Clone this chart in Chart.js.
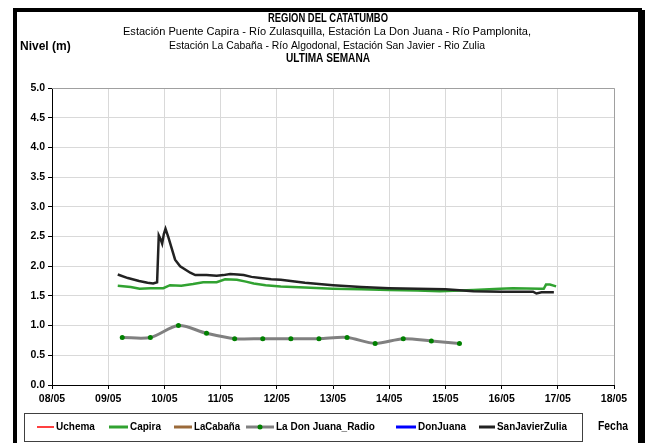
<!DOCTYPE html>
<html>
<head>
<meta charset="utf-8">
<script src="https://cdn.jsdelivr.net/npm/chart.js@4/dist/chart.umd.min.js"></script>
<style>
  html, body { margin: 0; padding: 0; background: #fff; }
  #wrap { position: relative; width: 656px; height: 443px; }
</style>
</head>
<body>
<div id="wrap"><canvas id="nivel" width="656" height="443"></canvas></div>
<script>
// Niveles Catatumbo - ultima semana

// DATA
// ============================================================
const xTicks = [8, 9, 10, 11, 12, 13, 14, 15, 16, 17, 18];   // dia de mayo

const capiraDias = [9.17, 9.4, 9.56, 9.75, 9.98, 10.10, 10.3, 10.51, 10.69, 10.93, 11.08, 11.29, 11.45, 11.59, 11.8, 12.07, 12.5, 13.0, 13.5, 14.0, 14.5, 14.9, 15.5, 15.97, 16.2, 16.69, 16.75, 16.79, 16.86, 16.97];
const capiraNivel = [1.67, 1.65, 1.62, 1.63, 1.63, 1.68, 1.67, 1.70, 1.73, 1.73, 1.78, 1.77, 1.74, 1.71, 1.68, 1.66, 1.64, 1.62, 1.61, 1.60, 1.59, 1.58, 1.60, 1.62, 1.63, 1.62, 1.62, 1.69, 1.69, 1.66];

const radioDias = [9.25, 9.75, 10.25, 10.75, 11.25, 11.75, 12.25, 12.75, 13.25, 13.75, 14.25, 14.75, 15.25];
const radioNivel = [0.80, 0.80, 1.00, 0.87, 0.78, 0.78, 0.78, 0.78, 0.80, 0.70, 0.78, 0.74, 0.70];

const sjDias = [9.17, 9.35, 9.55, 9.70, 9.80, 9.87, 9.90, 9.93, 9.96, 9.99, 10.02, 10.07, 10.19, 10.28, 10.46, 10.55, 10.75, 10.93, 11.05, 11.17, 11.30, 11.41, 11.55, 11.71, 11.90, 12.07, 12.5, 13.0, 13.5, 14.0, 14.5, 15.0, 15.5, 16.0, 16.3, 16.56, 16.62, 16.71, 16.93];
const sjNivel = [1.86, 1.80, 1.75, 1.72, 1.71, 1.73, 2.52, 2.46, 2.38, 2.54, 2.63, 2.49, 2.11, 2.00, 1.89, 1.85, 1.85, 1.84, 1.85, 1.87, 1.86, 1.85, 1.82, 1.80, 1.78, 1.77, 1.72, 1.68, 1.65, 1.63, 1.62, 1.61, 1.58, 1.57, 1.57, 1.57, 1.54, 1.56, 1.56];

const seriesNames = ['Uchema', 'Capira', 'LaCabaña', 'La Don Juana_Radio', 'DonJuana', 'SanJavierZulia'];

const titleLines = [
  'REGIÓN DEL CATATUMBO',
  'Estación Puente Capira - Río Zulasquilla, Estación La Don Juana - Río Pamplonita,',
  'Estación La Cabaña - Río Algodonal, Estación San Javier - Rio Zulia',
  'ULTIMA SEMANA'
];

const FONT = "'Liberation Sans', Arial, sans-serif";

const pts = (xs, ys) => xs.map((x, i) => ({ x, y: ys[i] }));

// PLUGINS
// ============================================================
const whiteBg = {
  id: 'whiteBg',
  beforeDraw(chart) {
    const c = chart.ctx;
    c.save();
    c.fillStyle = '#fff';
    c.fillRect(0, 0, chart.width, chart.height);
    c.restore();
  }
};

const decor = {
  id: 'decor',
  afterDraw(chart) {
    const c = chart.ctx;
    const a = chart.chartArea;
    c.save();

    // plot border (top/right gray)
    c.strokeStyle = '#a0a0a0';
    c.lineWidth = 1;
    c.beginPath();
    c.moveTo(a.left, a.top + 0.5); c.lineTo(a.right + 0.5, a.top + 0.5); c.lineTo(a.right + 0.5, a.bottom);
    c.stroke();

    // outer frame
    c.fillStyle = '#000';
    c.fillRect(13, 8, 629, 4);     // top
    c.fillRect(13, 8, 4, 440);     // left
    c.fillRect(638, 10, 7, 440);   // right (shadow)

    // titles
    c.fillStyle = '#000';
    c.textAlign = 'center';
    c.textBaseline = 'middle';
    c.font = 'bold 12px ' + FONT;
    c.fillText(titleLines[0], 328, 19, 120);
    c.font = '11.5px ' + FONT;
    c.fillText(titleLines[1], 327, 32, 408);
    c.fillText(titleLines[2], 327, 46, 316);
    c.font = 'bold 12px ' + FONT;
    c.fillText(titleLines[3], 328, 59, 84);

    c.textAlign = 'left';
    c.fillText('Nivel (m)', 20, 47, 56);
    c.fillText('Fecha', 598, 427, 30);

    // legend box
    c.strokeStyle = '#404040';
    c.lineWidth = 1;
    c.strokeRect(24.5, 413.5, 558, 28);

    const lx = [37, 109, 174, 246, 396, 479];
    const tx = [56, 130, 194, 276, 418, 497];
    const tw = [42, 31, 46, 112, 48, 70];
    const ly = 427;
    c.font = 'bold 10px ' + FONT;
    chart.data.datasets.forEach((ds, i) => {
      const x0 = lx[i], x1 = tx[i] - 2;
      c.strokeStyle = ds.borderColor;
      c.lineWidth = i === 0 ? 1.5 : 3;
      c.beginPath(); c.moveTo(x0, ly); c.lineTo(x1, ly); c.stroke();
      if (ds.pointRadius > 0) {
        c.fillStyle = ds.pointBackgroundColor;
        c.beginPath(); c.arc((x0 + x1) / 2, ly, 2.5, 0, Math.PI * 2); c.fill();
      }
      c.fillStyle = '#000';
      c.fillText(ds.label, tx[i], ly + 0.5, tw[i]);
    });

    c.restore();
  }
};

// CHART
// ============================================================
new Chart(document.getElementById('nivel'), {
  type: 'line',
  data: {
    datasets: [
      { label: seriesNames[0], data: [], borderColor: '#ff0000', borderWidth: 2, pointRadius: 0, order: 5 },
      { label: seriesNames[1], data: pts(capiraDias, capiraNivel), borderColor: '#31a231', borderWidth: 2.5, pointRadius: 0, order: 4 },
      { label: seriesNames[2], data: [], borderColor: '#9b6a3a', borderWidth: 2.5, pointRadius: 0, order: 3 },
      { label: seriesNames[3], data: pts(radioDias, radioNivel), borderColor: '#808080', borderWidth: 3, tension: 0.3,
        pointRadius: 2.5, pointBackgroundColor: '#008000', pointBorderWidth: 0, order: 2 },
      { label: seriesNames[4], data: [], borderColor: '#0000ff', borderWidth: 2.5, pointRadius: 0, order: 1 },
      { label: seriesNames[5], data: pts(sjDias, sjNivel), borderColor: '#222222', borderWidth: 2.5, pointRadius: 0, order: 0 },
    ]
  },
  options: {
    responsive: false,
    devicePixelRatio: 1,
    animation: false,
    layout: { padding: { left: 0, right: 42, top: 88, bottom: 0 } },
    plugins: { legend: { display: false }, tooltip: { enabled: false } },
    scales: {
      x: {
        type: 'linear', min: xTicks[0], max: xTicks[xTicks.length - 1],
        afterBuildTicks: s => { s.ticks = xTicks.map(v => ({ value: v })); },
        afterFit: s => { s.height = 58; },
        border: { color: '#000', width: 1 },
        grid: { color: '#d9d9d9', tickColor: '#000', tickLength: 4 },
        ticks: {
          color: '#000', padding: 4, maxRotation: 0,
          font: { family: FONT, size: 10.5, weight: 'bold' },
          callback: v => String(v).padStart(2, '0') + '/05'
        }
      },
      y: {
        min: 0, max: 5,
        afterFit: s => { s.width = 52; },
        border: { color: '#000', width: 1 },
        grid: {
          color: '#d9d9d9', tickLength: 4,
          tickColor: ctx => (Math.round(ctx.tick.value * 100) % 50 === 0 ? '#000' : 'rgba(0,0,0,0)')
        },
        ticks: {
          stepSize: 0.25, color: '#000', padding: 3,
          font: { family: FONT, size: 10.5, weight: 'bold' },
          callback: v => (Math.round(v * 100) % 50 === 0 ? v.toFixed(1) : '')
        }
      }
    }
  },
  plugins: [whiteBg, decor]
});
</script>
</body>
</html>
